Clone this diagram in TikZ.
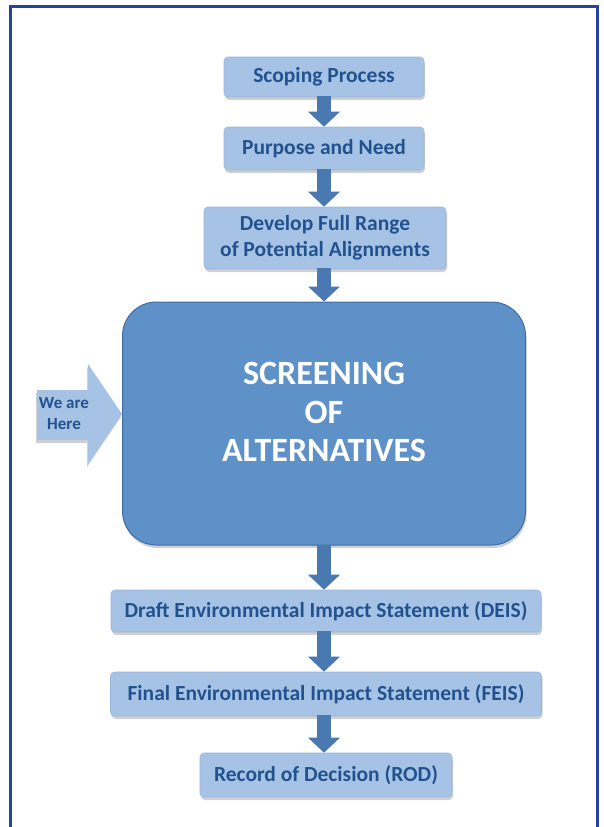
\documentclass[tikz,border=0pt]{standalone}
\usepackage{fontspec}
\setmainfont{Carlito}
\usetikzlibrary{arrows.meta,shadows}
\definecolor{framecol}{RGB}{38,66,160}
\definecolor{stepfill}{RGB}{166,195,230}
\definecolor{stepedge}{RGB}{150,182,220}
\definecolor{steptext}{RGB}{34,82,142}
\definecolor{flowcol}{RGB}{74,121,177}
\definecolor{bigfill}{RGB}{94,145,200}
\definecolor{bigedge}{RGB}{62,108,160}
\tikzset{
  stepbox/.style={draw=stepedge, line width=0.6pt, fill=stepfill, rounded corners=4pt,
    text=steptext, font=\fontsize{21.5}{26}\selectfont\bfseries, align=center,
    drop shadow={shadow xshift=1pt, shadow yshift=-3pt, opacity=0.3, fill=black!60}},
  bigbox/.style={draw=bigedge, line width=1pt, fill=bigfill, rounded corners=34pt,
    drop shadow={shadow xshift=1pt, shadow yshift=-3pt, opacity=0.3, fill=black!60}},
  flow/.style={draw=flowcol, line width=14pt,
    -{Triangle[width=31pt 0, length=15pt 0]}, shorten <=-1pt},
}
\begin{document}
\begin{tikzpicture}[x=1pt,y=-1pt]
  \useasboundingbox (0,0) rectangle (603,827);
  \fill[white] (0,0) rectangle (603,827);
  % outer frame, open at the bottom edge
  \draw[framecol, line width=3pt] (10,830) -- (10,6) -- (597,6) -- (597,830);

  % process steps
  \node[stepbox, minimum width=200pt, minimum height=40pt] (scope) at (324,77) {Scoping Process};
  \node[stepbox, minimum width=200pt, minimum height=43pt] (need) at (324,148.5) {Purpose and Need};
  \node[stepbox, minimum width=242pt, minimum height=62pt] (range) at (325,238)
    {Develop Full Range\\of Potential Alignments};
  \node[bigbox, minimum width=403pt, minimum height=243pt] (screen) at (324,423.5) {};
  \node[text=white, font=\fontsize{34}{38.5}\selectfont\bfseries, align=center] (screentxt)
    at (324,412) {SCREENING\\OF\\ALTERNATIVES};
  \node[stepbox, minimum width=430pt, minimum height=42pt] (deis) at (326,611)
    {Draft Environmental Impact Statement (DEIS)};
  \node[stepbox, minimum width=431pt, minimum height=44pt] (feis) at (326,694)
    {Final Environmental Impact Statement (FEIS)};
  \node[stepbox, minimum width=252pt, minimum height=44pt] (rod) at (326,775)
    {Record of Decision (ROD)};

  % connectors between steps
  \draw[flow] (scope.south -| 324,0) -- (need.north -| 324,0);
  \draw[flow] (need.south -| 324,0) -- (range.north -| 324,0);
  \draw[flow] (range.south -| 324,0) -- (screen.north -| 324,0);
  \draw[flow] (screen.south -| 324,0) -- (deis.north -| 324,0);
  \draw[flow] (deis.south -| 324,0) -- (feis.north -| 324,0);
  \draw[flow] (feis.south -| 324,0) -- (rod.north -| 324,0);

  % "We are Here" marker pointing at the screening step
  \coordinate (tip) at (screen.west |- 0,414);
  \fill[stepfill, drop shadow={shadow xshift=-1pt, shadow yshift=-3pt, opacity=0.3, fill=black!60}]
    (37,390) -- (88,390) -- (88,364) -- (tip) -- (88,464) -- (88,440) -- (37,440) -- cycle;
  \node[text=steptext, font=\fontsize{17}{21}\selectfont\bfseries, align=center] (here)
    at (64,414) {We are\\Here};
\end{tikzpicture}
\end{document}
